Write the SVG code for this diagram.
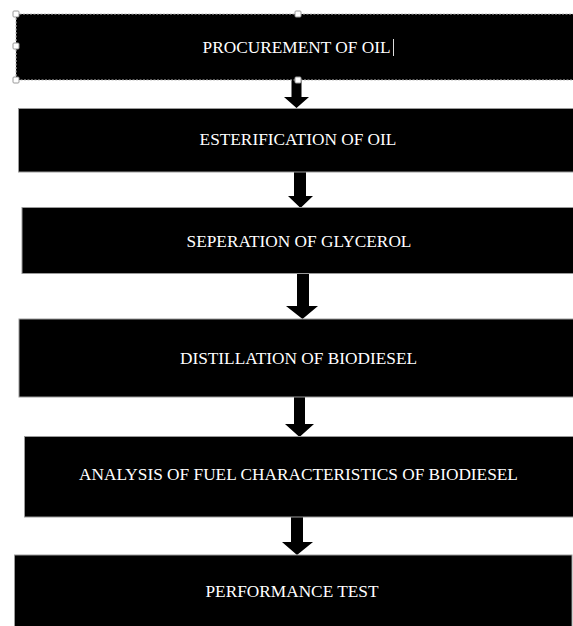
<svg xmlns="http://www.w3.org/2000/svg" width="573" height="626" viewBox="0 0 573 626">
<style>
.box{fill:#000;stroke:#9a9a9a;stroke-width:1}
.lbl{fill:#fff;font-family:"Liberation Serif","Times New Roman",serif;font-size:17.3px;text-anchor:middle}
.arr{fill:#000}
.h{fill:#fff;stroke:#9a9a9a;stroke-width:1}
</style>
<rect width="573" height="626" fill="#fff"/>
<g id="connectors">
<polygon class="arr" points="291.5,80 301.5,80 301.5,97 309,97 296.5,108 284,97 291.5,97"/>
<polygon class="arr" points="294,172 306,172 306,196 313,196 300.5,208 288,196 294,196"/>
<polygon class="arr" points="297,274 309,274 309,306 318,306 302.5,319 286,306 297,306"/>
<polygon class="arr" points="294,397 305,397 305,424 314,424 299.5,437 285,424 294,424"/>
<polygon class="arr" points="291,517 303,517 303,542 313,542 297,555 282,542 291,542"/>
</g>
<g id="n1">
<rect x="16" y="14" width="560" height="66" fill="#000" stroke="#bbb" stroke-width="1.2" stroke-dasharray="2,1.5"/>
<text class="lbl" x="296.5" y="53">PROCUREMENT OF OIL</text>
<line x1="393.5" y1="39" x2="393.5" y2="56" stroke="#ddd" stroke-width="1"/>
<rect class="h" x="13" y="11" width="6" height="6" rx="1"/>
<rect class="h" x="295" y="11" width="6" height="6" rx="1"/>
<rect class="h" x="13" y="43" width="6" height="6" rx="1"/>
<rect class="h" x="13" y="77" width="6" height="6" rx="1"/>
<rect class="h" x="295" y="77" width="6" height="6" rx="1"/>
</g>
<g id="n2">
<rect class="box" x="18.5" y="108.5" width="560" height="63.5"/>
<text class="lbl" x="298" y="145">ESTERIFICATION OF OIL</text>
</g>
<g id="n3">
<rect class="box" x="22" y="207.5" width="560" height="66"/>
<text class="lbl" x="299" y="247">SEPERATION OF GLYCEROL</text>
</g>
<g id="n4">
<rect class="box" x="19" y="319" width="560" height="78"/>
<text class="lbl" x="298.5" y="364">DISTILLATION OF BIODIESEL</text>
</g>
<g id="n5">
<rect class="box" x="24.5" y="436.5" width="560" height="80.5"/>
<text class="lbl" x="298.5" y="480">ANALYSIS OF FUEL CHARACTERISTICS OF BIODIESEL</text>
</g>
<g id="n6">
<rect class="box" x="14.5" y="555" width="557.5" height="80"/>
<text class="lbl" x="292" y="597">PERFORMANCE TEST</text>
</g>
</svg>
